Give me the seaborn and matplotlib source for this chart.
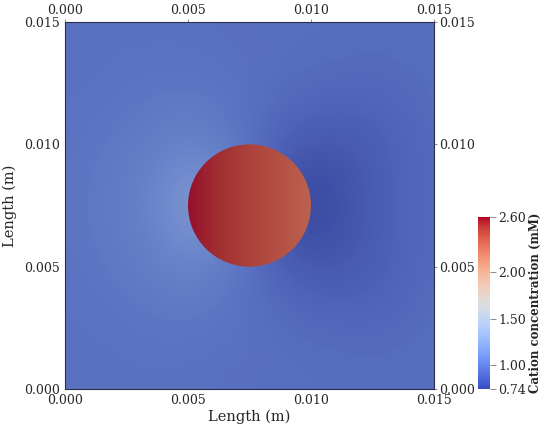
import numpy as np
import matplotlib
matplotlib.use('Agg')
import matplotlib.pyplot as plt
from matplotlib.colors import Normalize, ListedColormap
from matplotlib.patches import Circle
import seaborn as sns

# grid positions (m) of the read-off concentration samples
grid_pos = [0.0, 0.00125, 0.0025, 0.00375, 0.005, 0.00625, 0.0075,
            0.00875, 0.01, 0.01125, 0.0125, 0.01375, 0.015]

# cation concentration (mM) outside the particle, rows from y=0 to y=0.015
row_00 = [0.98, 0.98, 0.98, 0.98, 0.98, 0.98, 0.97, 0.97, 0.97, 0.96, 0.96, 0.96, 0.96]
row_01 = [0.98, 0.98, 0.99, 0.99, 0.99, 0.98, 0.98, 0.97, 0.96, 0.96, 0.95, 0.96, 0.96]
row_02 = [0.98, 0.99, 1.00, 1.01, 1.01, 1.00, 0.98, 0.96, 0.94, 0.93, 0.93, 0.94, 0.96]
row_03 = [0.99, 1.00, 1.01, 1.03, 1.04, 1.02, 0.98, 0.93, 0.90, 0.89, 0.90, 0.92, 0.95]
row_04 = [0.99, 1.01, 1.03, 1.06, 1.09, 1.06, 0.98, 0.89, 0.84, 0.84, 0.87, 0.91, 0.94]
row_05 = [1.00, 1.02, 1.04, 1.09, 1.18, 1.13, 0.98, 0.83, 0.77, 0.80, 0.86, 0.91, 0.94]
row_06 = [1.00, 1.02, 1.05, 1.11, 1.24, 1.15, 0.98, 0.82, 0.75, 0.79, 0.86, 0.91, 0.94]
row_07 = [1.00, 1.02, 1.04, 1.09, 1.18, 1.13, 0.98, 0.83, 0.77, 0.80, 0.86, 0.91, 0.94]
row_08 = [0.99, 1.01, 1.03, 1.06, 1.09, 1.06, 0.98, 0.89, 0.84, 0.84, 0.87, 0.91, 0.94]
row_09 = [0.99, 1.00, 1.01, 1.03, 1.04, 1.02, 0.98, 0.93, 0.90, 0.89, 0.90, 0.92, 0.95]
row_10 = [0.98, 0.99, 1.00, 1.01, 1.01, 1.00, 0.98, 0.96, 0.94, 0.93, 0.93, 0.94, 0.96]
row_11 = [0.98, 0.98, 0.99, 0.99, 0.99, 0.98, 0.98, 0.97, 0.96, 0.96, 0.95, 0.96, 0.96]
row_12 = [0.98, 0.98, 0.98, 0.98, 0.98, 0.98, 0.97, 0.97, 0.97, 0.96, 0.96, 0.96, 0.96]

# concentration inside the particle, left to right
particle_x = [0.005, 0.00625, 0.0075, 0.00875, 0.01]
particle_vals = [2.60, 2.53, 2.46, 2.39, 2.31]
particle_center = (0.0075, 0.0075)
particle_radius = 0.0025

axis_ticks = [0.0, 0.005, 0.010, 0.015]
cbar_ticks = [0.74, 1.00, 1.50, 2.00, 2.60]
vmin, vmax = 0.74, 2.60

sns.set_style('white')
plt.rcParams['font.family'] = ['DejaVu Serif']

base_cmap = sns.color_palette('coolwarm', as_cmap=True)
# shaded version of the colormap for the lit surface
cols = base_cmap(np.linspace(0, 1, 256))
cols[:, :3] = cols[:, :3] * 0.76 + 0.055
field_cmap = ListedColormap(cols)
norm = Normalize(vmin, vmax)

field = np.array([row_00, row_01, row_02, row_03, row_04, row_05, row_06,
                  row_07, row_08, row_09, row_10, row_11, row_12])
step = grid_pos[1] - grid_pos[0]

fig = plt.figure(figsize=(5.5, 4.29), dpi=100)
ax = fig.add_axes([0.1182, 0.0932, 0.6709, 0.8555])

ax.imshow(field, cmap=field_cmap, norm=norm, origin='lower',
          interpolation='bicubic', aspect='auto',
          extent=(grid_pos[0] - step / 2, grid_pos[-1] + step / 2,
                  grid_pos[0] - step / 2, grid_pos[-1] + step / 2))

pstep = particle_x[1] - particle_x[0]
img = ax.imshow(np.array([particle_vals]), cmap=field_cmap, norm=norm,
                origin='lower', interpolation='bilinear', aspect='auto',
                extent=(particle_x[0] - pstep / 2, particle_x[-1] + pstep / 2,
                        particle_center[1] - particle_radius,
                        particle_center[1] + particle_radius))
clip = Circle(particle_center, particle_radius, transform=ax.transData)
img.set_clip_path(clip)

ax.set_xlim(0, 0.015)
ax.set_ylim(0, 0.015)
ax.set_xticks(axis_ticks)
ax.set_yticks(axis_ticks)
ax.set_xticklabels([f'{t:.3f}' for t in axis_ticks])
ax.set_yticklabels([f'{t:.3f}' for t in axis_ticks])
ax.tick_params(axis='both', which='both', direction='out', length=2.5, width=0.6,
               color='#777777', labelsize=9, pad=1,
               top=True, right=True, labeltop=True, labelright=True)
for sp in ax.spines.values():
    sp.set_color('#2a2f4a')
    sp.set_linewidth(0.8)
ax.set_xlabel('Length (m)', fontsize=10.5, labelpad=2)
ax.set_ylabel('Length (m)', fontsize=10.5, labelpad=5)

cax = fig.add_axes([0.869, 0.0932, 0.0218, 0.401])
sm = plt.cm.ScalarMappable(norm=norm, cmap=base_cmap)
cb = fig.colorbar(sm, cax=cax, ticks=cbar_ticks)
cb.outline.set_visible(False)
cb.ax.set_yticklabels([f'{t:.2f}' for t in cbar_ticks])
cb.ax.tick_params(direction='out', length=4, width=0.6, color='#777777',
                  labelsize=9, pad=2)
cb.set_label('Cation concentration (mM)', fontsize=8.5, fontweight='bold',
             labelpad=2)

fig.savefig('out.png', dpi=100)
